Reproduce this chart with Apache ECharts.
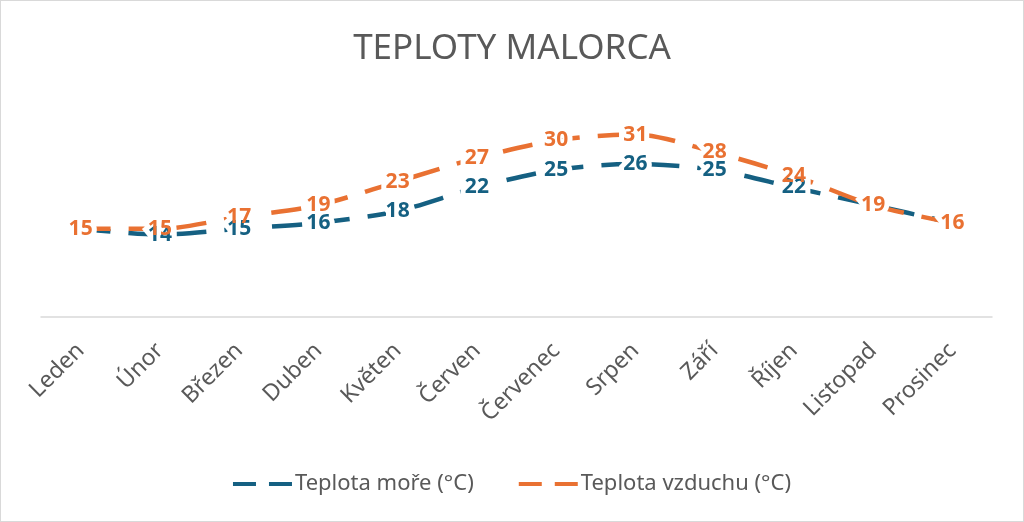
<!DOCTYPE html>
<html><head><meta charset="utf-8">
<script src="https://cdn.jsdelivr.net/npm/echarts@6/dist/echarts.min.js"></script>
<style>html,body{margin:0;padding:0;background:#fff}#c{width:1022px;height:520px;border:1px solid #d9d9d9}</style>
</head><body><div id="c"></div>
<script>
const categories = ['Leden','Únor','Březen','Duben','Květen','Červen','Červenec','Srpen','Září','Říjen','Listopad','Prosinec'];
const seaTemp = [15,14,15,16,18,22,25,26,25,22,19,16];
const airTemp = [15,15,17,19,23,27,30,31,28,24,19,16];
const seriesNames = ['Teplota moře (°C)','Teplota vzduchu (°C)'];
const FONT = 'Noto Sans';
const SEA = '#156082', AIR = '#E97132';
const chart = echarts.init(document.getElementById('c'));
const dashIcon = 'path://M0,0H23V4H0Z M36,0H59V4H36Z';
// sea labels that coincide with the air label are covered in the original
const seaFmt = p => (seaTemp[p.dataIndex] === airTemp[p.dataIndex] ? '' : String(p.value));
function lineSeries(name, data, color, z){
  return {name, type:'line', data, smooth:0.3, symbol:'none', z,
    lineStyle:{color, width:4.5, type:[30,18], cap:'butt'}, itemStyle:{color}};
}
function labelSeries(name, data, color, z, halo, fmt){
  return {name, type:'line', data, smooth:0.3, symbol:'circle', symbolSize:0.01, showSymbol:true, z,
    lineStyle:{opacity:0}, itemStyle:{color}, silent:true,
    label:{show:true, position:'inside', color: halo ? '#fff' : color, fontFamily:FONT, fontWeight:'bold', fontSize:21,
      formatter: fmt || '{c}',
      textBorderColor: halo ? '#fff' : 'transparent', textBorderWidth: halo ? 10 : 0}};
}
chart.setOption({
  animation:false,
  title:{text:'TEPLOTY MALORCA', left:'center', top:26, textStyle:{fontFamily:FONT, fontSize:35, fontWeight:'normal', color:'#595959'}},
  grid:{left:40, right:31, top:110, bottom:204, containLabel:false},
  xAxis:{type:'category', data:categories, boundaryGap:true,
    axisLine:{lineStyle:{color:'#d9d9d9', width:1.5}}, axisTick:{show:false},
    axisLabel:{rotate:45, fontFamily:FONT, fontSize:23, color:'#595959', margin:30, interval:0}},
  yAxis:{type:'value', min:0, max:35, show:false, splitLine:{show:false}},
  legend:{top:467, left:'center', itemGap:45, itemWidth:59, itemHeight:4,
    textStyle:{fontFamily:FONT, fontSize:22, color:'#595959', padding:[0,0,0,-2]},
    data:[{name:seriesNames[0], icon:dashIcon},{name:seriesNames[1], icon:dashIcon}]},
  series:[
    lineSeries(seriesNames[0], seaTemp, SEA, 2),
    lineSeries(seriesNames[1], airTemp, AIR, 2),
    labelSeries('haloSea', seaTemp, SEA, 3, true, seaFmt),
    labelSeries('haloAir', airTemp, AIR, 3, true),
    labelSeries('lblSea', seaTemp, SEA, 4, false, seaFmt),
    labelSeries('lblAir', airTemp, AIR, 5, false)
  ]
});
</script></body></html>
